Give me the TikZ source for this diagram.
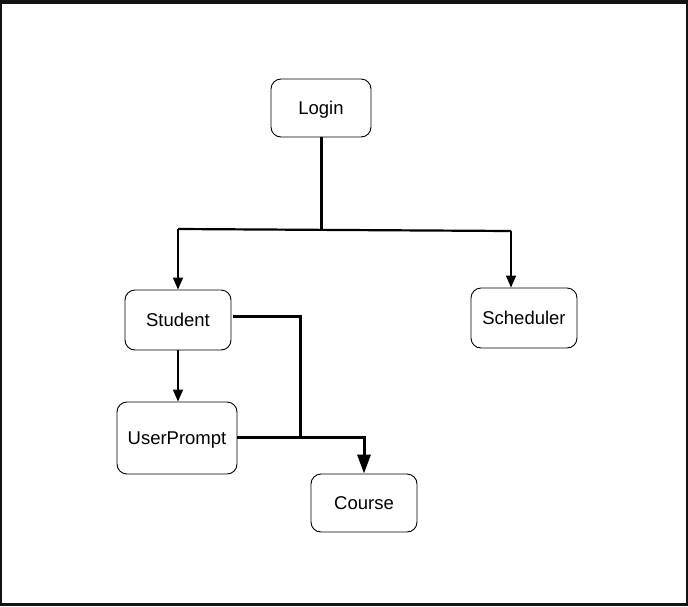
\documentclass[tikz,border=0pt]{standalone}
\usepackage{fontspec}
\setmainfont{Liberation Sans}
\usetikzlibrary{arrows.meta}
\begin{document}
\begin{tikzpicture}[x=1pt,y=-1pt,
  box/.style={draw=black,line width=0.9pt,rounded corners=10pt,inner sep=0pt,text height=16pt,text depth=4pt,font=\fontsize{18.5}{22}\selectfont},
  thin arrow/.style={line width=1.6pt,-{Triangle[length=12pt,width=10pt]}},
  thick link/.style={line width=3pt},
  thick arrow/.style={line width=3pt,-{Triangle[length=19pt,width=13pt]}}]
\useasboundingbox (0,0) rectangle (688,606);
\fill[black!93] (0,0) rectangle (688,4);
\fill[black!93] (0,0) rectangle (2,606);
\fill[black!93] (686,0) rectangle (688,606);
\fill[black!93] (0,603) rectangle (688,606);
\node[box,minimum width=100pt,minimum height=58pt] (login) at (321,108) {Login};
\node[box,minimum width=106pt,minimum height=60pt] (student) at (178,320) {Student};
\node[box,minimum width=106pt,minimum height=60pt] (sched) at (524,318) {Scheduler};
\node[box,minimum width=120pt,minimum height=72pt] (prompt) at (177,438) {UserPrompt};
\node[box,minimum width=106pt,minimum height=58pt] (course) at (364,503) {Course};
\coordinate (j1) at (321,229);
\coordinate (hl) at (178,229);
\coordinate (hr) at (511,231);
\coordinate (sj) at (300,316);
\coordinate (sj2) at (300,437);
\coordinate (cj) at (364,437);
\draw[thick link] (login.south) -- (j1);
\draw[line width=2.2pt] (hl) -- (hr);
\draw[thin arrow] (hl) -- (student.north);
\draw[thin arrow] (hr) -- (hr |- sched.north);
\draw[thin arrow] (student.south) -- (prompt.north -| student.south);
\draw[thick link] ([xshift=2pt]student.east |- sj) -- (sj) -- (sj2);
\draw[thick arrow] (prompt.east |- cj) -- (cj) -- (course.north);
\end{tikzpicture}
\end{document}
